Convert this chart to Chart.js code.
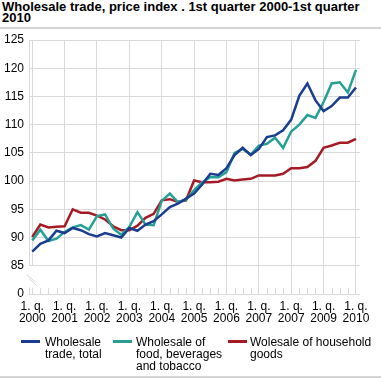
<!DOCTYPE html>
<html>
<head>
<meta charset="utf-8">
<script src="https://cdn.jsdelivr.net/npm/chart.js@4/dist/chart.umd.min.js"></script>
<style>
  html, body { margin: 0; padding: 0; background: #fff; }
  #wrap { position: relative; width: 381px; height: 379px; overflow: hidden; font-family: "Liberation Sans", Arial, sans-serif; color: #000; }
  #title { position: absolute; left: 2px; top: 1px; font-weight: bold; font-size: 13px; line-height: 11px; width: 379px; }
  #topline { position: absolute; left: 0; top: 27px; width: 381px; height: 2px; background: #d4d4d4; }
  #botline { position: absolute; left: 0; top: 376px; width: 381px; height: 2px; background: #d4d4d4; }
  canvas { position: absolute; left: 0; top: 0; }
  .lg-line { position: absolute; height: 3px; width: 19px; }
  .lg-text { position: absolute; font-size: 12px; line-height: 12px; white-space: nowrap; }
</style>
</head>
<body>
<div id="wrap">
  <div id="title">Wholesale trade, price index . 1st quarter 2000-1st quarter 2010</div>
  <div id="topline"></div>
  <canvas id="c" width="381" height="379"></canvas>
  <div class="lg-line" style="left:21px; top:340px; background:#1a3d8f;"></div>
  <div class="lg-text" style="left:45px; top:336px;">Wholesale<br>trade, total</div>
  <div class="lg-line" style="left:113px; top:340px; background:#26a095;"></div>
  <div class="lg-text" style="left:136px; top:336px;">Wholesale of<br>food, beverages<br>and tobacco</div>
  <div class="lg-line" style="left:228px; top:340px; background:#a51b25;"></div>
  <div class="lg-text" style="left:250px; top:336px;">Wolesale of household<br>goods</div>
  <div id="botline"></div>
</div>
<script>
// ---- data ----
const quarterLabel = '1. q.';
const yearLabels = ['2000','2001','2002','2003','2004','2005','2006','2007','2007','2009','2010'];
const seriesNames = ['Wholesale trade, total', 'Wholesale of food, beverages and tobacco', 'Wolesale of household goods'];
const totalValues = [87.5, 88.9, 89.5, 91.2, 90.8, 91.7, 91.3, 90.6, 90.2, 90.8,
                     90.4, 90.0, 91.7, 91.2, 92.3, 92.9, 94.1, 95.4, 96.0, 96.9,
                     97.8, 99.4, 101.3, 101.1, 102.3, 104.6, 105.9, 104.6, 105.7, 107.8,
                     108.1, 109.0, 110.9, 115.1, 117.3, 114.3, 112.4, 113.3, 114.8, 114.8,
                     116.6];
const foodValues = [89.5, 91.4, 89.4, 89.8, 91.0, 91.8, 92.2, 91.4, 93.8, 94.1,
                    91.6, 90.5, 91.9, 94.5, 92.3, 92.2, 96.5, 97.8, 96.3, 96.7,
                    98.4, 99.8, 100.7, 100.7, 101.6, 105.0, 105.7, 104.7, 106.3, 106.6,
                    107.7, 105.9, 108.8, 110.0, 111.7, 111.2, 114.0, 117.3, 117.5, 115.7,
                    119.7];
const householdValues = [90.1, 92.3, 91.8, 91.9, 92.0, 95.0, 94.4, 94.4, 93.9, 93.2,
                         92.0, 91.3, 91.3, 92.1, 93.5, 94.2, 96.6, 96.8, 96.3, 96.6,
                         100.1, 99.8, 99.8, 99.9, 100.4, 100.1, 100.3, 100.4, 101.0, 101.0,
                         101.0, 101.3, 102.3, 102.3, 102.5, 103.6, 105.9, 106.3, 106.8, 106.8,
                         107.5];
const yTickValues = [80, 85, 90, 95, 100, 105, 110, 115, 120, 125];
const yTickLabels = ['0', '85', '90', '95', '100', '105', '110', '115', '120', '125'];

// ---- build ----
const colors = ['#1a3d8f', '#26a095', '#a51b25'];
const gridColor = '#d9d9d9';
const toXY = arr => arr.map((v, i) => ({ x: i, y: v }));
const font = { family: '"Liberation Sans", Arial, sans-serif', size: 12, lineHeight: 1.0 };

const extras = {
  id: 'extras',
  beforeDatasetsDraw(chart) {
    const { ctx, chartArea } = chart;
    const xs = chart.scales.x, ys = chart.scales.y;
    const yBreakTop = ys.getPixelForValue(85);
    const yBottom = ys.getPixelForValue(80);
    const yBreakBot = yBottom - 6.5;
    ctx.save();
    ctx.strokeStyle = gridColor;
    ctx.lineWidth = 1;
    // left axis line and first gridline, broken
    [chartArea.left + 0.5, Math.round(xs.getPixelForValue(0)) + 0.5].forEach(x => {
      ctx.beginPath();
      ctx.moveTo(x, chartArea.top); ctx.lineTo(x, yBreakTop);
      ctx.moveTo(x, yBreakBot); ctx.lineTo(x, yBottom);
      ctx.stroke();
    });
    // break marks
    const bx = chartArea.left - 2, by = yBreakTop + 9;
    ctx.beginPath();
    ctx.moveTo(bx, by); ctx.lineTo(bx + 8, by + 7);
    ctx.moveTo(bx + 2, by + 4); ctx.lineTo(bx + 10, by + 11);
    ctx.stroke();
    // minor quarter ticks inside plot
    for (let q = 0; q < totalValues.length; q++) {
      if (q % 4 === 0) continue;
      const x = Math.round(xs.getPixelForValue(q)) + 0.5;
      ctx.beginPath();
      ctx.moveTo(x, yBottom); ctx.lineTo(x, yBottom - 6);
      ctx.stroke();
    }
    ctx.restore();
  }
};

new Chart(document.getElementById('c'), {
  type: 'line',
  data: {
    datasets: [
      { label: seriesNames[0], data: toXY(totalValues), borderColor: colors[0] },
      { label: seriesNames[1], data: toXY(foodValues), borderColor: colors[1] },
      { label: seriesNames[2], data: toXY(householdValues), borderColor: colors[2] }
    ].map(d => Object.assign(d, { borderWidth: 2.5, pointRadius: 0, fill: false, tension: 0, backgroundColor: d.borderColor }))
  },
  options: {
    responsive: false,
    devicePixelRatio: 1,
    animation: false,
    layout: { padding: { left: 0, right: 21, top: 40, bottom: 0 } },
    plugins: { legend: { display: false }, title: { display: false }, tooltip: { enabled: false } },
    scales: {
      x: {
        type: 'linear',
        min: -0.4,
        max: 40.5,
        afterBuildTicks: s => { s.ticks = yearLabels.map((_, i) => ({ value: i * 4 })); },
        afterFit: s => { s.height = 85; },
        ticks: {
          autoSkip: false,
          maxRotation: 0,
          padding: 7,
          color: '#000',
          font: font,
          callback: v => [quarterLabel, yearLabels[v / 4]]
        },
        grid: {
          drawTicks: false,
          color: c => (c.tick && c.tick.value === 0) ? 'rgba(0,0,0,0)' : gridColor,
          lineWidth: 1
        },
        border: { display: false }
      },
      y: {
        type: 'linear',
        min: 80,
        max: 125,
        afterBuildTicks: s => { s.ticks = yTickValues.map(v => ({ value: v })); },
        afterFit: s => { s.width = 29; },
        ticks: {
          padding: 5,
          color: '#000',
          font: { family: '"Liberation Sans", Arial, sans-serif', size: 12 },
          callback: v => yTickLabels[yTickValues.indexOf(v)]
        },
        grid: { drawTicks: false, color: gridColor, lineWidth: 1 },
        border: { display: false }
      }
    }
  },
  plugins: [extras]
});
</script>
</body>
</html>
